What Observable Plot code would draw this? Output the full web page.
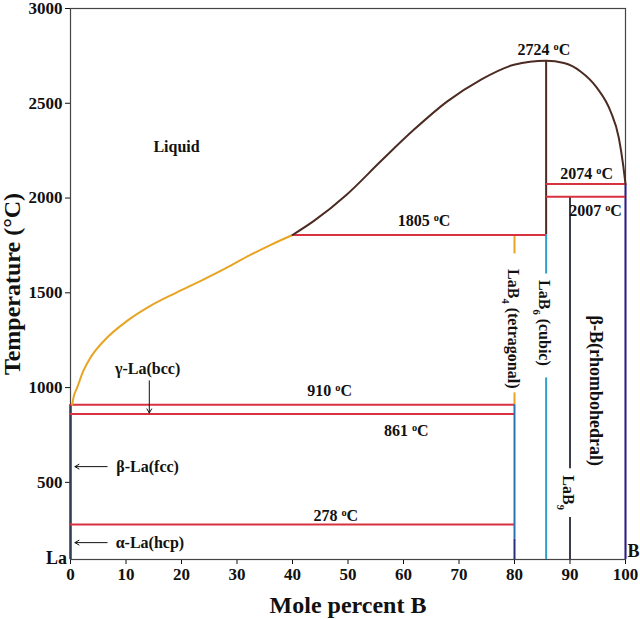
<!DOCTYPE html>
<html>
<head>
<meta charset="utf-8">
<script src="https://cdn.jsdelivr.net/npm/d3@7"></script>
<script src="https://cdn.jsdelivr.net/npm/@observablehq/plot@0.6"></script>
<style>
  html, body { margin: 0; padding: 0; background: #fff; }
</style>
</head>
<body>
<div id="chart"></div>
<script>
// ---- data (mole percent B, temperature °C) ----
const xTicks = [0, 10, 20, 30, 40, 50, 60, 70, 80, 90, 100];
const yTicks = [500, 1000, 1500, 2000, 2500, 3000];
const yBottom = 93;

// liquidus, La-rich side (to the 1805 °C eutectic)
const liquidusLa = [
  [0.3, 910], [0.6, 955], [1.2, 1000], [2.2, 1080], [3.6, 1158], [6.0, 1246],
  [10.2, 1352], [14.4, 1431], [19.0, 1500], [23.4, 1562], [28.0, 1630],
  [32.4, 1700], [36.0, 1752], [40.0, 1805]
];
// liquidus, B-rich side (through the LaB6 congruent point)
const liquidusB = [
  [40.0, 1805], [43.8, 1878], [49.8, 2019], [55.9, 2194], [61.9, 2361],
  [67.9, 2510], [73.9, 2624], [79.9, 2703], [85.7, 2724], [88.9, 2712],
  [91.9, 2668], [94.9, 2580], [97.3, 2458], [98.8, 2317], [99.6, 2170], [100, 2074]
];

// invariant isotherms: [T, xFrom, xTo]
const isotherms = [
  [2074, 85.7, 100], [2007, 85.7, 100], [1805, 40, 85.7],
  [910, 0, 80], [861, 0, 80], [278, 0, 80]
];

// phase boundary segments: [phase, x, Ttop, Tbottom]
const phaseLines = [
  ["La", 0, 910, yBottom],
  ["LaB4-liq", 80, 1805, 1705],
  ["LaB4-liq", 80, 972, 910],
  ["LaB4", 80, 910, 200],
  ["LaB4-low", 80, 200, yBottom],
  ["LaB6-liq", 85.7, 2724, 1805],
  ["LaB6", 85.7, 1805, 1599],
  ["LaB6", 85.7, 1051, yBottom],
  ["LaB9", 90, 2007, 572],
  ["LaB9", 90, 314, yBottom],
  ["B", 100, 2074, yBottom]
];

// temperature labels: [text, x, T]
const tempLabels = [
  ["2724 oC", 85.3, 2784], ["2074 oC", 93.0, 2126], ["2007 oC", 94.6, 1931],
  ["1805 oC", 63.7, 1878], ["910 oC", 46.7, 983], ["861 oC", 60.5, 772],
  ["278 oC", 47.8, 325]
];
// phase labels: [text, x, T]
const phaseLabels = [
  ["Liquid", 19.1, 2268], ["γ-La(bcc)", 13.9, 1099],
  ["β-La(fcc)", 13.9, 583], ["α-La(hcp)", 14.3, 182]
];
// vertical phase labels: [text, x, T]
const compoundLabels = [
  ["LaB4 (tetragonal)", 79.7, 1310], ["LaB6 (cubic)", 85.4, 1341], ["LaB9", 89.7, 446]
];
const boronLabel = [["β-B(rhombohedral)", 94.6, 983]];
// arrows: [x1, T1, x2, T2]
const arrows = [
  [14.2, 1036, 14.2, 866], [6.6, 583, 0.8, 583], [6.6, 182, 0.8, 182]
];

// ---- styles ----
const phaseColor = {
  "La": "#2f3d55", "LaB4-liq": "#e8a423", "LaB4": "#2b72b0", "LaB4-low": "#24307a",
  "LaB6-liq": "#4b2b22", "LaB6": "#2f9fcc", "LaB9": "#3a3d4a", "B": "#2c1c8c"
};
const red = "#d8313f";

const chart = Plot.plot({
  width: 640, height: 620,
  marginLeft: 70, marginRight: 15, marginTop: 8, marginBottom: 61,
  style: {
    fontFamily: "'Liberation Serif', 'Times New Roman', serif",
    fontWeight: "bold", fontSize: "17px", color: "#111", background: "#fff"
  },
  x: {domain: [0, 100], ticks: xTicks, tickSize: 5, tickPadding: 3, tickFormat: d => String(d), label: null},
  y: {domain: [yBottom, 3000], ticks: yTicks, tickSize: 5, tickPadding: 3, tickFormat: d => String(d), label: null},
  marks: [
    Plot.frame({stroke: "#444", strokeWidth: 1.2}),
    Plot.ruleX(phaseLines, {
      x: d => d[1], y1: d => d[2], y2: d => d[3],
      stroke: d => phaseColor[d[0]], strokeWidth: d => d[0] === "La" ? 2.5 : 2
    }),
    Plot.ruleY(isotherms, {y: d => d[0], x1: d => d[1], x2: d => d[2], stroke: red, strokeWidth: 2}),
    Plot.line(liquidusLa, {x: d => d[0], y: d => d[1], stroke: "#e8a423", strokeWidth: 2, curve: "monotone-x"}),
    Plot.line(liquidusB, {x: d => d[0], y: d => d[1], stroke: "#4b2b22", strokeWidth: 2, curve: "monotone-x"}),
    Plot.arrow(arrows, {
      x1: d => d[0], y1: d => d[1], x2: d => d[2], y2: d => d[3],
      stroke: "#111", strokeWidth: 1, headLength: 7
    }),
    Plot.text(tempLabels, {x: d => d[1], y: d => d[2], text: d => d[0], fontSize: 16, fill: "#111"}),
    Plot.text(phaseLabels, {x: d => d[1], y: d => d[2], text: d => d[0], fontSize: 16, fill: "#111"}),
    Plot.text(compoundLabels, {x: d => d[1], y: d => d[2], text: d => d[0], fontSize: 16, rotate: 90, fill: "#111"}),
    Plot.text(boronLabel, {x: d => d[1], y: d => d[2], text: d => d[0], fontSize: 18, rotate: 90, fill: "#111"}),
    Plot.text(["Temperature (°C)"], {frameAnchor: "left", textAnchor: "middle", lineAnchor: "middle", dx: -58, rotate: -90, fontSize: 24, fill: "#111"}),
    Plot.text(["Mole percent B"], {frameAnchor: "bottom", textAnchor: "middle", lineAnchor: "middle", dy: 46, fontSize: 24, fill: "#111"}),
    Plot.text(["La"], {frameAnchor: "bottom-left", textAnchor: "middle", lineAnchor: "middle", dx: -14, dy: -1, fontSize: 18, fill: "#111"}),
    Plot.text(["B"], {frameAnchor: "bottom-right", textAnchor: "middle", lineAnchor: "middle", dx: 8, dy: -8, fontSize: 18, fill: "#111"})
  ]
});

// superscript "o" in temperatures, subscripts in LaBn
const NS = "http://www.w3.org/2000/svg";
function setRich(t, parts) {
  t.textContent = "";
  for (const [s, shift] of parts) {
    const ts = document.createElementNS(NS, "tspan");
    ts.textContent = s;
    if (shift) { ts.setAttribute("baseline-shift", shift); ts.setAttribute("font-size", "65%"); }
    t.appendChild(ts);
  }
}
chart.querySelectorAll("text").forEach(t => {
  if (t.children.length) return;
  const s = t.textContent;
  let m;
  if ((m = s.match(/^(.*) oC$/))) setRich(t, [[m[1] + " "], ["o", "super"], ["C"]]);
  else if ((m = s.match(/^LaB(\d)(.*)$/))) setRich(t, [["LaB"], [m[1], "sub"], [m[2]]]);
});

document.getElementById("chart").appendChild(chart);
</script>
</body>
</html>
